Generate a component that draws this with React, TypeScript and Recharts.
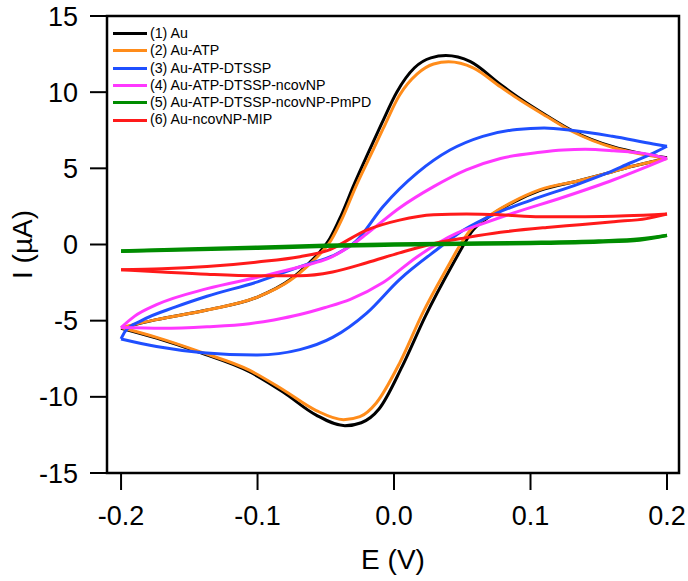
import React from "react";
import {
  LineChart,
  Line,
  XAxis,
  YAxis,
  ReferenceArea,
  Label,
} from "recharts";

// potential (V), current (µA) — forward scan (-0.2 -> 0.2) and reverse scan (0.2 -> -0.2)
const AU_FWD = [
  [-0.2, -5.5], [-0.175, -4.95], [-0.137, -4.3], [-0.1, -3.45], [-0.076, -2.3],
  [-0.062, -1.2], [-0.054, -0.45], [-0.047, 0.4], [-0.039, 1.85], [-0.029, 4.0],
  [-0.019, 6.0], [-0.009, 7.95], [0.002, 10.0], [0.015, 11.6], [0.027, 12.25],
  [0.038, 12.4], [0.056, 12.0], [0.078, 10.5], [0.092, 9.6], [0.112, 8.45],
  [0.131, 7.45], [0.161, 6.4], [0.18, 6.0], [0.2, 5.7],
];
const AU_REV = [
  [0.2, 5.7], [0.185, 5.35], [0.173, 5.1], [0.155, 4.65], [0.136, 4.2],
  [0.107, 3.55], [0.087, 2.75], [0.07, 1.85], [0.057, 0.85], [0.048, -0.5],
  [0.043, -1.3], [0.023, -4.7], [0.006, -8.0], [-0.011, -10.8], [-0.024, -11.7],
  [-0.036, -11.9], [-0.057, -11.2], [-0.081, -9.7], [-0.106, -8.35],
  [-0.142, -7.1], [-0.174, -6.15], [-0.2, -5.5],
];

const ATP_FWD = [
  [-0.2, -5.45], [-0.175, -4.95], [-0.137, -4.3], [-0.1, -3.45], [-0.076, -2.35],
  [-0.062, -1.3], [-0.053, -0.5], [-0.046, 0.3], [-0.038, 1.7], [-0.028, 3.8],
  [-0.018, 5.7], [-0.008, 7.6], [0.004, 9.8], [0.017, 11.2], [0.029, 11.85],
  [0.04, 12.0], [0.058, 11.6], [0.078, 10.35], [0.092, 9.5], [0.112, 8.4],
  [0.131, 7.4], [0.161, 6.35], [0.18, 5.95], [0.2, 5.65],
];
const ATP_REV = [
  [0.2, 5.65], [0.185, 5.35], [0.173, 5.1], [0.155, 4.65], [0.136, 4.2],
  [0.107, 3.6], [0.087, 2.8], [0.07, 1.9], [0.056, 0.95], [0.046, -0.4],
  [0.041, -1.2], [0.021, -4.5], [0.004, -7.8], [-0.013, -10.4], [-0.025, -11.3],
  [-0.037, -11.5], [-0.057, -10.9], [-0.081, -9.55], [-0.106, -8.25],
  [-0.142, -7.05], [-0.174, -6.1], [-0.2, -5.45],
];

const DTSSP_FWD = [
  [-0.2, -6.2], [-0.197, -5.7], [-0.185, -5.0], [-0.16, -4.1], [-0.137, -3.4],
  [-0.1, -2.45], [-0.064, -1.3], [-0.045, -0.75], [-0.028, 0.2], [-0.008, 2.5],
  [0.017, 4.7], [0.041, 6.2], [0.065, 7.1], [0.09, 7.55], [0.11, 7.65],
  [0.13, 7.5], [0.16, 7.1], [0.19, 6.6], [0.2, 6.45],
];
const DTSSP_REV = [
  [0.2, 6.45], [0.19, 6.0], [0.173, 5.35], [0.155, 4.65], [0.136, 4.0],
  [0.1, 2.9], [0.075, 2.05], [0.051, 0.95], [0.031, -0.36], [0.004, -2.3],
  [-0.02, -4.5], [-0.045, -6.1], [-0.069, -6.9], [-0.1, -7.25], [-0.14, -7.1],
  [-0.174, -6.7], [-0.2, -6.2],
];

const NP_FWD = [
  [-0.2, -5.45], [-0.19, -4.7], [-0.174, -3.95], [-0.137, -2.9], [-0.1, -2.15],
  [-0.064, -1.35], [-0.049, -0.95], [-0.032, -0.1], [-0.02, 0.7], [0.004, 2.4],
  [0.029, 3.8], [0.053, 4.9], [0.078, 5.65], [0.107, 6.05], [0.124, 6.2],
  [0.14, 6.25], [0.161, 6.15], [0.185, 5.95], [0.2, 5.65],
];
const NP_REV = [
  [0.2, 5.65], [0.185, 5.1], [0.161, 4.25], [0.124, 3.1], [0.087, 2.05],
  [0.063, 1.3], [0.046, 0.75], [0.017, -0.8], [-0.008, -2.5], [-0.032, -3.6],
  [-0.051, -4.15], [-0.069, -4.6], [-0.088, -4.95], [-0.106, -5.2],
  [-0.137, -5.4], [-0.17, -5.5], [-0.2, -5.45],
];

const PMPD_FWD = [
  [-0.2, -0.42], [-0.15, -0.3], [-0.1, -0.18], [-0.05, -0.05], [0, 0.03],
  [0.05, 0.08], [0.1, 0.13], [0.15, 0.23], [0.18, 0.36], [0.2, 0.6],
];
const PMPD_REV = [
  [0.2, 0.6], [0.18, 0.3], [0.15, 0.17], [0.1, 0.07], [0.05, 0.02], [0, -0.04],
  [-0.05, -0.12], [-0.1, -0.24], [-0.15, -0.35], [-0.2, -0.45],
];

const MIP_FWD = [
  [-0.2, -1.65], [-0.17, -1.6], [-0.137, -1.45], [-0.1, -1.15], [-0.069, -0.8],
  [-0.049, -0.4], [-0.02, 0.95], [0.004, 1.6], [0.029, 1.95], [0.053, 2.0],
  [0.078, 1.95], [0.107, 1.82], [0.14, 1.82], [0.17, 1.88], [0.2, 2.0],
];
const MIP_REV = [
  [0.2, 2.0], [0.185, 1.7], [0.161, 1.5], [0.136, 1.3], [0.112, 1.12],
  [0.078, 0.8], [0.053, 0.45], [0.031, 0.1], [0.004, -0.55], [-0.02, -1.2],
  [-0.045, -1.8], [-0.069, -2.05], [-0.1, -2.05], [-0.137, -1.95],
  [-0.17, -1.8], [-0.2, -1.65],
];

const X_TICKS = [-0.2, -0.1, 0, 0.1, 0.2];
const Y_TICKS = [-15, -10, -5, 0, 5, 10, 15];
const X_DOMAIN = [-0.2103, 0.2088];
const Y_DOMAIN = [-15, 15];

const SERIES = [
  { name: "(1) Au", color: "#000000", fwd: AU_FWD, rev: AU_REV },
  { name: "(2) Au-ATP", color: "#FF8C1A", fwd: ATP_FWD, rev: ATP_REV },
  { name: "(3) Au-ATP-DTSSP", color: "#1F4FFF", fwd: DTSSP_FWD, rev: DTSSP_REV },
  { name: "(4) Au-ATP-DTSSP-ncovNP", color: "#FF38FF", fwd: NP_FWD, rev: NP_REV },
  { name: "(5) Au-ATP-DTSSP-ncovNP-PmPD", color: "#008C00", fwd: PMPD_FWD, rev: PMPD_REV },
  { name: "(6) Au-ncovNP-MIP", color: "#FF1A1A", fwd: MIP_FWD, rev: MIP_REV },
];

// green goes on top of the rest, like in the original
const DRAW_ORDER = [0, 1, 2, 3, 5, 4];

const toPoints = (arr: number[][]) => arr.map(([x, y]) => ({ x, y }));
const ascending = (arr: number[][]) => toPoints([...arr].sort((a, b) => a[0] - b[0]));

const FONT = "'Liberation Sans', Arial, sans-serif";

const LegendBox = () => (
  <div
    style={{
      position: "absolute",
      left: 113,
      top: 25,
      fontFamily: FONT,
      fontSize: 14.2,
      lineHeight: "17.3px",
      color: "#000",
    }}
  >
    {SERIES.map((s) => (
      <div key={s.name} style={{ display: "flex", alignItems: "center", height: 17.3 }}>
        <span style={{ display: "inline-block", width: 34, height: 3, background: s.color, marginRight: 3 }} />
        <span>{s.name}</span>
      </div>
    ))}
  </div>
);

export default function App() {
  return (
    <div style={{ position: "absolute", left: 0, top: 0, width: 688, height: 581, background: "#fff" }}>
      <LineChart
        width={688}
        height={581}
        margin={{ top: 16, right: 9, left: 0, bottom: 0 }}
      >
        <XAxis
          type="number"
          dataKey="x"
          domain={X_DOMAIN}
          ticks={X_TICKS}
          allowDataOverflow
          tickFormatter={(v: number) => v.toFixed(1)}
          height={108}
          tickSize={17}
          tickMargin={16}
          axisLine={{ stroke: "#000", strokeWidth: 2 }}
          tickLine={{ stroke: "#000", strokeWidth: 2 }}
          tick={{ fill: "#000", fontSize: 27, fontFamily: FONT }}
        >
          <Label
            value="E (V)"
            position="insideBottom"
            offset={12}
            style={{ fill: "#000", fontSize: 28, fontFamily: FONT }}
          />
        </XAxis>
        <YAxis
          type="number"
          domain={Y_DOMAIN}
          ticks={Y_TICKS}
          allowDataOverflow
          width={107}
          tickSize={17}
          tickMargin={12}
          axisLine={{ stroke: "#000", strokeWidth: 2 }}
          tickLine={{ stroke: "#000", strokeWidth: 2 }}
          tick={{ fill: "#000", fontSize: 27, fontFamily: FONT }}
        >
          <Label
            value="I (µA)"
            angle={-90}
            position="insideLeft"
            offset={22}
            style={{ fill: "#000", fontSize: 28, fontFamily: FONT, textAnchor: "middle" }}
          />
        </YAxis>
        {DRAW_ORDER.map((i) => {
          const s = SERIES[i];
          const w = i === 4 ? 3.5 : 3;
          return [
            <Line
              key={`${s.name}-f`}
              data={ascending(s.fwd)}
              dataKey="y"
              type="monotone"
              stroke={s.color}
              strokeWidth={w}
              dot={false}
              isAnimationActive={false}
            />,
            <Line
              key={`${s.name}-r`}
              data={ascending(s.rev)}
              dataKey="y"
              type="monotone"
              stroke={s.color}
              strokeWidth={w}
              dot={false}
              isAnimationActive={false}
            />,
          ];
        })}
        <ReferenceArea
          x1={X_DOMAIN[0]}
          x2={X_DOMAIN[1]}
          y1={Y_DOMAIN[0]}
          y2={Y_DOMAIN[1]}
          fill="none"
          stroke="#000"
          strokeWidth={2.5}
        />
      </LineChart>
      <LegendBox />
    </div>
  );
}
